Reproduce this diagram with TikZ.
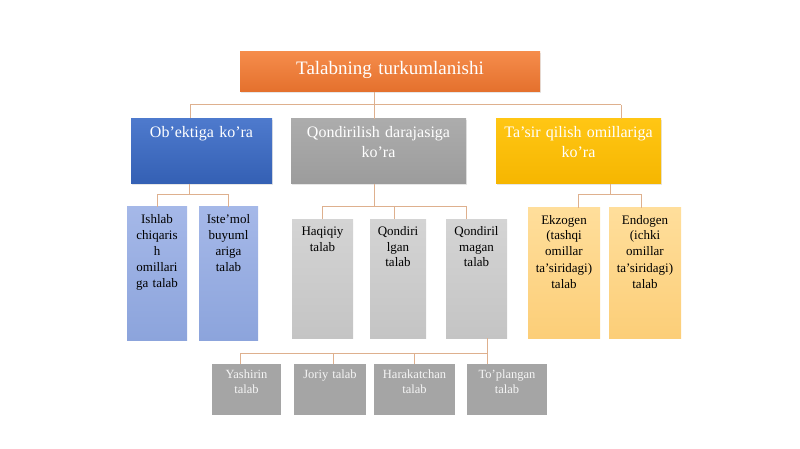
\documentclass[tikz,border=0pt]{standalone}
\usepackage{fontspec}
\setmainfont{Liberation Serif}
\usetikzlibrary{shadows}
\definecolor{orangetop}{RGB}{245,140,75}
\definecolor{orangebot}{RGB}{228,112,45}
\definecolor{bluetop}{RGB}{78,122,205}
\definecolor{bluebot}{RGB}{52,96,180}
\definecolor{graytop}{RGB}{172,172,172}
\definecolor{graybot}{RGB}{156,156,156}
\definecolor{yellowtop}{RGB}{255,198,20}
\definecolor{yellowbot}{RGB}{246,182,0}
\definecolor{lbluetop}{RGB}{165,184,232}
\definecolor{lbluebot}{RGB}{140,164,220}
\definecolor{lgraytop}{RGB}{212,212,212}
\definecolor{lgraybot}{RGB}{196,196,196}
\definecolor{lyellowtop}{RGB}{255,222,155}
\definecolor{lyellowbot}{RGB}{252,206,120}
\definecolor{graydark}{RGB}{165,165,165}
\definecolor{linecol}{RGB}{222,176,142}
\tikzset{
  cell/.style 2 args={rectangle, inner sep=0pt, align=center, minimum width=#1, text width=#1, text depth=#2},
  topbox/.style={text height=23pt, text=white, top color=orangetop, bottom color=orangebot,
    font=\fontsize{19}{22}\selectfont, drop shadow={opacity=0.2, shadow xshift=1pt, shadow yshift=-1.5pt}},
  lvtwo/.style={text height=19pt, text=white, font=\fontsize{16}{20}\selectfont,
    drop shadow={opacity=0.2, shadow xshift=1pt, shadow yshift=-1.5pt}},
  lvthree/.style={text height=16pt, text=black, font=\fontsize{13}{16}\selectfont},
  lvfour/.style={text height=14pt, text=white!92!gray, fill=graydark, font=\fontsize{12.5}{15}\selectfont},
  conn/.style={draw=linecol, line width=1pt},
}
\begin{document}
\begin{tikzpicture}[x=1pt, y=-1pt]
\useasboundingbox (0,0) rectangle (800,449);

\node[cell={300pt}{17pt}, topbox] (top) at (390,72) {Talabning turkumlanishi};

\node[cell={141pt}{46pt}, lvtwo, top color=bluetop, bottom color=bluebot] (obj) at (201.5,151) {Ob’ektiga ko’ra};
\node[cell={175pt}{46pt}, lvtwo, top color=graytop, bottom color=graybot] (qd) at (378.5,151.5) {Qondirilish darajasiga\\ko’ra};
\node[cell={165pt}{46pt}, lvtwo, top color=yellowtop, bottom color=yellowbot] (tas) at (578.5,151.5) {Ta’sir qilish omillariga\\ko’ra};

\node[cell={60pt}{117pt}, lvthree, top color=lbluetop, bottom color=lbluebot] (ishlab) at (157,273.5) {Ishlab\\chiqaris\\h\\omillari\\ga talab};
\node[cell={59pt}{117pt}, lvthree, top color=lbluetop, bottom color=lbluebot] (istemol) at (228.5,273.5) {Iste’mol\\buyuml\\ariga\\talab};

\node[cell={61pt}{103pt}, lvthree, top color=lgraytop, bottom color=lgraybot] (haqiqiy) at (322.5,278.5) {Haqiqiy\\talab};
\node[cell={56pt}{103pt}, lvthree, top color=lgraytop, bottom color=lgraybot] (qgan) at (398,278.5) {Qondiri\\lgan\\talab};
\node[cell={61pt}{103pt}, lvthree, top color=lgraytop, bottom color=lgraybot] (qmagan) at (476.5,278.5) {Qondiril\\magan\\talab};

\node[cell={72pt}{114pt}, lvthree, top color=lyellowtop, bottom color=lyellowbot] (ekzogen) at (564,273) {Ekzogen\\(tashqi\\omillar\\ta’siridagi)\\talab};
\node[cell={72pt}{114pt}, lvthree, top color=lyellowtop, bottom color=lyellowbot] (endogen) at (645,273) {Endogen\\(ichki\\omillar\\ta’siridagi)\\talab};

\node[cell={69pt}{37pt}, lvfour] (yashirin) at (246.5,389.5) {Yashirin\\talab};
\node[cell={72pt}{37pt}, lvfour] (joriy) at (330,389.5) {Joriy talab};
\node[cell={81pt}{37pt}, lvfour] (harakat) at (414.5,389.5) {Harakatchan\\talab};
\node[cell={80pt}{37pt}, lvfour] (toplangan) at (507,389.5) {To’plangan\\talab};

% connectors
\coordinate (busa) at (190,105);
\coordinate (busb) at (621,105);
\draw[conn] ([xshift=-16pt]top.south) -- ([xshift=-16pt]top.south |- qd.north);
\draw[conn] (busa) -- (busb);
\draw[conn] (busa) -- (busa |- obj.north);
\draw[conn] (busb) -- (busb |- tas.north);

\coordinate (busc) at (189,195);
\draw[conn] (busc |- obj.south) -- (busc);
\draw[conn] (ishlab.north) |- (busc);
\draw[conn] (istemol.north) |- (busc);

\coordinate (busd) at (374,207);
\draw[conn] (busd |- qd.south) -- (busd);
\draw[conn] (haqiqiy.north) |- (busd);
\draw[conn] ([xshift=-4pt]qgan.north) |- (busd);
\draw[conn] ([xshift=-10pt]qmagan.north) |- (busd);

\coordinate (buse) at (610,195);
\draw[conn] (buse |- tas.south) -- (buse);
\draw[conn] ([xshift=14pt]ekzogen.north) |- (buse);
\draw[conn] ([xshift=-4pt]endogen.north) |- (buse);

\coordinate (busf) at (487,353);
\draw[conn] (busf |- qmagan.south) -- (busf);
\draw[conn] ([xshift=-6pt]yashirin.north) |- (busf);
\draw[conn] ([xshift=3pt]joriy.north) |- (busf);
\draw[conn] (harakat.north) |- (busf);
\draw[conn] ([xshift=-20pt]toplangan.north) |- (busf);
\end{tikzpicture}
\end{document}
